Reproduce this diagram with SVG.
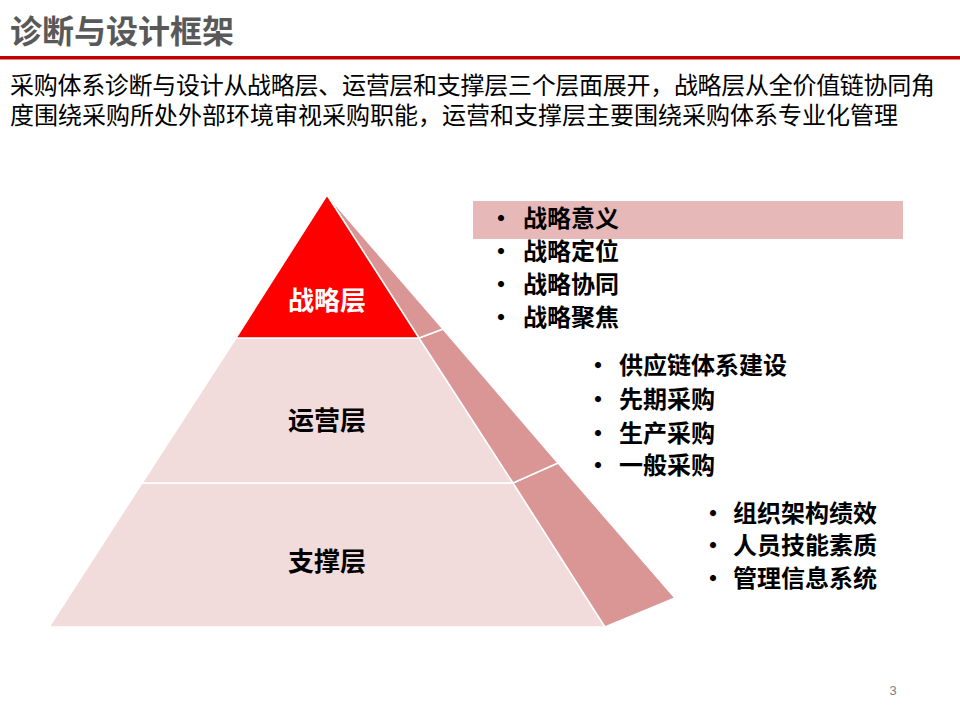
<svg xmlns="http://www.w3.org/2000/svg" width="960" height="720" viewBox="0 0 960 720">
<style>
text{font-family:"Noto Sans CJK SC","Microsoft YaHei",sans-serif}
.front{fill:#F2DCDB;stroke:#FFFFFF;stroke-width:1.5}
.side{fill:#D99694;stroke:#FFFFFF;stroke-width:1.5}
.top{fill:#FF0000;stroke:#FFFFFF;stroke-width:1.5}
.lbl{font-size:26px;font-weight:bold;text-anchor:middle;fill:#000000}
.bl{font-size:24px;font-weight:bold;fill:#000000}
.para{font-size:24px;fill:#000000}
</style>
<rect x="0" y="0" width="960" height="720" fill="#FFFFFF"/>
<g id="header">
<text x="10" y="43" font-size="32" font-weight="bold" fill="#595959">诊断与设计框架</text>
<rect x="0" y="56" width="960" height="3.5" fill="#C00000"/>
<text class="para"><tspan x="10" y="94" textLength="925" lengthAdjust="spacing">采购体系诊断与设计从战略层、运营层和支撑层三个层面展开，战略层从全价值链协同角</tspan><tspan x="10" y="124">度围绕采购所处外部环境审视采购职能，运营和支撑层主要围绕采购体系专业化管理</tspan></text>
</g>
<g id="layer-support">
<polygon class="front" points="142,483 513,483 605,627 49,627"/>
<polygon class="side" points="513,483 605,627 675,598 558,463"/>
<text class="lbl" x="327" y="571">支撑层</text>
</g>
<g id="layer-operation">
<polygon class="front" points="236,338 419,338 513,483 142,483"/>
<polygon class="side" points="419,338 513,483 558,463 443,329"/>
<text class="lbl" x="327" y="430">运营层</text>
</g>
<g id="layer-strategy">
<polygon class="side" points="327,195 419,338 443,329"/>
<polygon class="top" points="327,195 236,338 419,338"/>
<text class="lbl" x="327" y="310" style="fill:#FFFFFF">战略层</text>
</g>
<g id="list-strategy">
<rect x="473" y="201" width="430" height="38" fill="#E6B9B8"/>
<text class="bl" x="489" y="227">•</text><text class="bl" x="523" y="227">战略意义</text>
<text class="bl" x="489" y="260">•</text><text class="bl" x="523" y="260">战略定位</text>
<text class="bl" x="489" y="293">•</text><text class="bl" x="523" y="293">战略协同</text>
<text class="bl" x="489" y="326">•</text><text class="bl" x="523" y="326">战略聚焦</text>
</g>
<g id="list-operation">
<text class="bl" x="586" y="374">•</text><text class="bl" x="619" y="374">供应链体系建设</text>
<text class="bl" x="586" y="408">•</text><text class="bl" x="619" y="408">先期采购</text>
<text class="bl" x="586" y="442">•</text><text class="bl" x="619" y="442">生产采购</text>
<text class="bl" x="586" y="474">•</text><text class="bl" x="619" y="474">一般采购</text>
</g>
<g id="list-support">
<text class="bl" x="701" y="522">•</text><text class="bl" x="733" y="522">组织架构绩效</text>
<text class="bl" x="701" y="554">•</text><text class="bl" x="733" y="554">人员技能素质</text>
<text class="bl" x="701" y="587">•</text><text class="bl" x="733" y="587">管理信息系统</text>
</g>
<g id="connectors"></g>
<text x="893" y="695" font-size="13" fill="#808080" text-anchor="middle" style="font-family:'Liberation Sans',sans-serif">3</text>
</svg>
